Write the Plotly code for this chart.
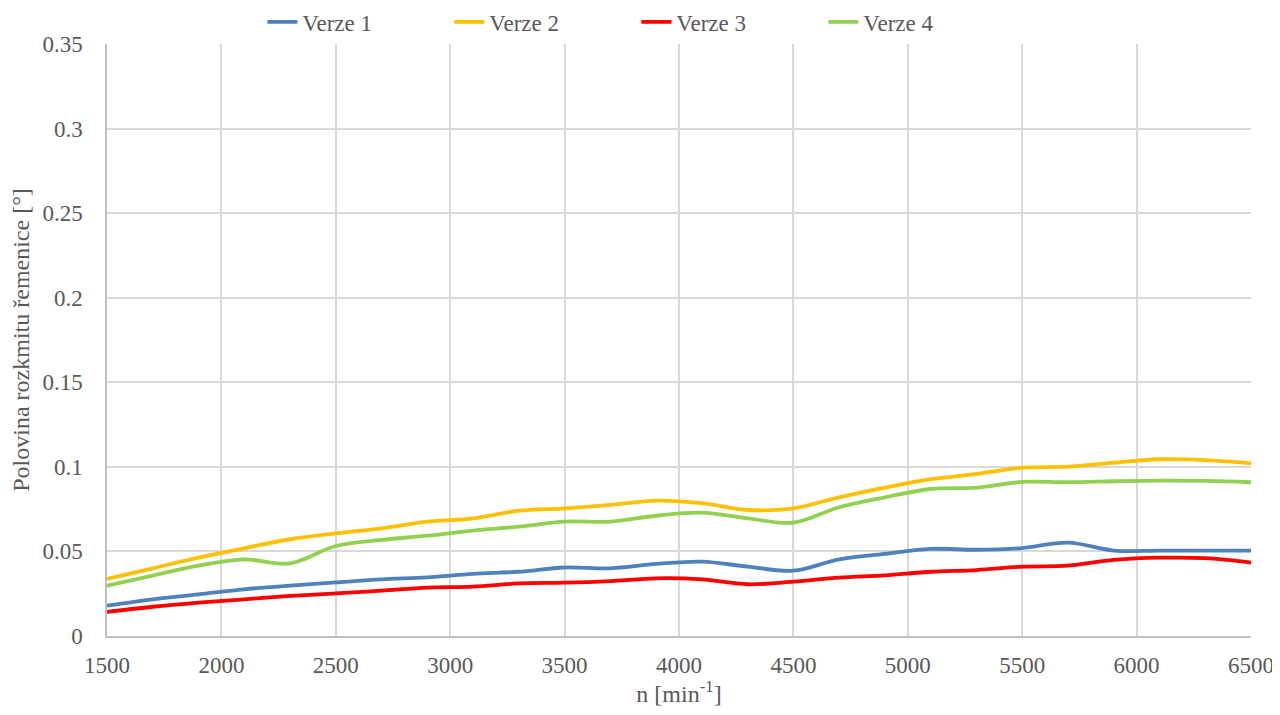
import plotly.graph_objects as go

rpm = [1500, 1700, 1900, 2100, 2300, 2500, 2700, 2900, 3100, 3300, 3500, 3700, 3900,
       4100, 4300, 4500, 4700, 4900, 5100, 5300, 5500, 5700, 5900, 6100, 6300, 6500]

verze1 = [0.0179, 0.0217, 0.0246, 0.0276, 0.0298, 0.0317, 0.0335, 0.0347, 0.0367, 0.0380,
          0.0405, 0.0400, 0.0426, 0.0440, 0.0410, 0.0386, 0.0453, 0.0485, 0.0515, 0.0510,
          0.0520, 0.0552, 0.0505, 0.0505, 0.0505, 0.0505]
verze2 = [0.0337, 0.0400, 0.0463, 0.0519, 0.0572, 0.0607, 0.0637, 0.0676, 0.0696, 0.0741,
          0.0755, 0.0775, 0.0800, 0.0785, 0.0745, 0.0755, 0.0820, 0.0877, 0.0927, 0.0958,
          0.0995, 0.1001, 0.1025, 0.1045, 0.1040, 0.1021]
verze3 = [0.0142, 0.0173, 0.0197, 0.0217, 0.0237, 0.0252, 0.0268, 0.0286, 0.0292, 0.0311,
          0.0315, 0.0325, 0.0341, 0.0335, 0.0306, 0.0321, 0.0345, 0.0359, 0.0380, 0.0390,
          0.0410, 0.0416, 0.0450, 0.0463, 0.0460, 0.0434]
verze4 = [0.0298, 0.0357, 0.0416, 0.0453, 0.0430, 0.0532, 0.0568, 0.0593, 0.0623, 0.0646,
          0.0676, 0.0676, 0.0711, 0.0729, 0.0696, 0.0670, 0.0761, 0.0820, 0.0869, 0.0877,
          0.0911, 0.0909, 0.0915, 0.0919, 0.0917, 0.0909]

series = [("Verze 1", verze1, "#4F81BD"),
          ("Verze 2", verze2, "#FFC000"),
          ("Verze 3", verze3, "#FF0000"),
          ("Verze 4", verze4, "#92D050")]

y_ticks = [0, 0.05, 0.1, 0.15, 0.2, 0.25, 0.3, 0.35]
y_ticktext = ["0", "0.05", "0.1", "0.15", "0.2", "0.25", "0.3", "0.35"]
x_ticks = [1500, 2000, 2500, 3000, 3500, 4000, 4500, 5000, 5500, 6000, 6500]

fig = go.Figure()
for name, vals, col in series:
    fig.add_trace(go.Scatter(x=rpm, y=vals, name=name, mode="lines",
                             line=dict(color=col, width=3.8, shape="spline", smoothing=1.0)))

ff = "Liberation Serif, Times New Roman, serif"
txt = "#595959"
fig.update_layout(
    width=1272, height=699,
    margin=dict(l=99, r=29, t=36, b=71, autoexpand=False),
    paper_bgcolor="white", plot_bgcolor="white",
    font=dict(family=ff, size=23, color=txt),
    showlegend=True,
    legend=dict(orientation="h", x=0.494, xref="container", xanchor="center",
                y=0.98, yref="container", yanchor="middle",
                font=dict(family=ff, size=23, color=txt),
                entrywidth=142, entrywidthmode="pixels", bgcolor="rgba(0,0,0,0)"),
    xaxis=dict(range=[1500, 6500], tickvals=x_ticks, showgrid=True, gridcolor="#D9D9D9",
               gridwidth=1.5, zeroline=False, showline=True, linecolor="#BFBFBF", linewidth=1.5,
               ticks="", automargin=True, ticklabelstandoff=8, ticklabeloverflow="allow",
               tickfont=dict(family=ff, size=23, color=txt),
               title=dict(text="n [min<sup>-1</sup>]", font=dict(family=ff, size=24, color=txt), standoff=12)),
    yaxis=dict(range=[0, 0.35], tickvals=y_ticks, ticktext=y_ticktext, showgrid=True,
               gridcolor="#D9D9D9", gridwidth=1.5, zeroline=False, showline=True,
               linecolor="#BFBFBF", linewidth=1.5, ticks="", automargin=True, ticklabelstandoff=18,
               tickfont=dict(family=ff, size=23, color=txt),
               title=dict(text="Polovina rozkmitu řemenice [°]", font=dict(family=ff, size=24, color=txt),
                          standoff=8)),
)

fig.write_html("out.html")
